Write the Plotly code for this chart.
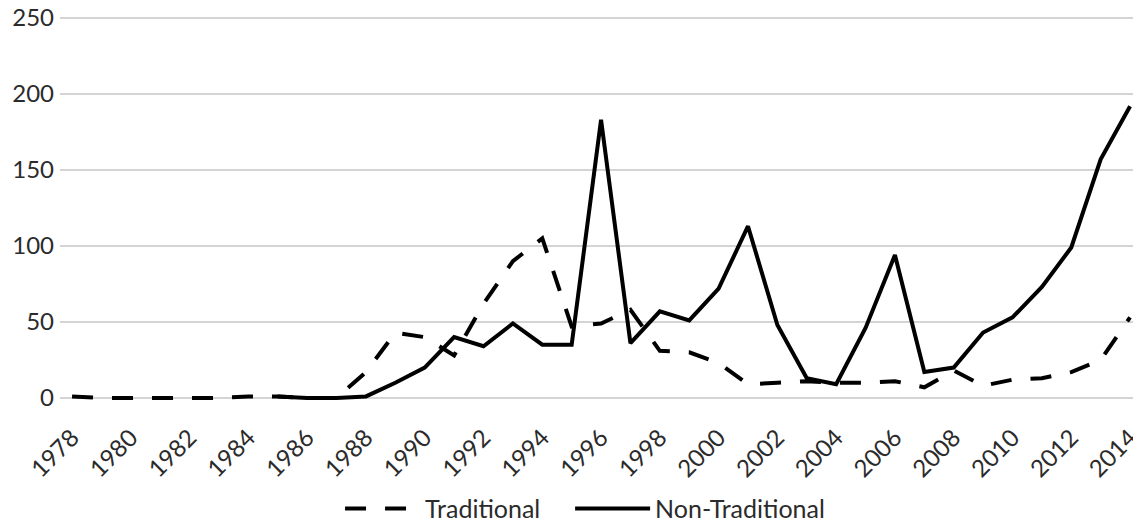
import plotly.graph_objects as go

years = list(range(1978, 2015))
traditional = [1, 0, 0, 0, 0, 0, 1, 1, 0, 0, 17, 43, 40, 28, 62, 90, 105, 47, 49, 58,
               31, 30, 23, 9, 10, 11, 10, 10, 11, 7, 18, 8, 12, 13, 17, 25, 53]
non_traditional = [None, None, None, None, None, None, None, 1, 0, 0, 1, 10, 20, 40, 34, 49, 35, 35, 183, 36,
                   57, 51, 72, 113, 48, 13, 9, 46, 94, 17, 20, 43, 53, 73, 99, 157, 192]
tick_years = list(range(1978, 2015, 2))
y_ticks = [0, 50, 100, 150, 200, 250]

FONT = "Lato, 'Open Sans', sans-serif"
TEXT = "#2b2b2b"

fig = go.Figure()
fig.add_trace(go.Scatter(
    x=years, y=traditional, mode="lines", name="Traditional",
    line=dict(color="black", width=4, dash="21px,19px"), legend="legend",
))
fig.add_trace(go.Scatter(
    x=years, y=non_traditional, mode="lines", name="Non-Traditional",
    line=dict(color="black", width=4), legend="legend2",
))

legend_common = dict(orientation="h", xanchor="left", y=-0.21, yanchor="top",
                     font=dict(size=25, color=TEXT), itemwidth=75)
fig.update_layout(
    width=1133, height=522,
    margin=dict(l=60, r=0, t=15, b=118, autoexpand=False),
    paper_bgcolor="white", plot_bgcolor="white",
    font=dict(family=FONT, size=24, color=TEXT),
    showlegend=True,
    legend=dict(x=0.261, **legend_common),
    legend2=dict(x=0.4754, **legend_common),
)
fig.update_xaxes(
    range=[1977.59, 2014.1], tickmode="array", tickvals=tick_years,
    ticktext=[str(y) for y in tick_years], tickangle=-45,
    showgrid=False, zeroline=False, showline=False, ticks="",
    tickfont=dict(size=24, color=TEXT), automargin=False,
    ticklabeloverflow="allow", ticklabelstandoff=14,
)
fig.update_yaxes(
    range=[-4, 252], tickmode="array", tickvals=y_ticks,
    showgrid=True, gridcolor="#d4d4d4", gridwidth=1.5, zeroline=False,
    showline=False, ticks="", tickfont=dict(size=24, color=TEXT), automargin=False,
    ticklabelstandoff=5,
)

fig.write_html("out.html", config={"displayModeBar": False},
               post_script="document.body.style.margin='0';")
